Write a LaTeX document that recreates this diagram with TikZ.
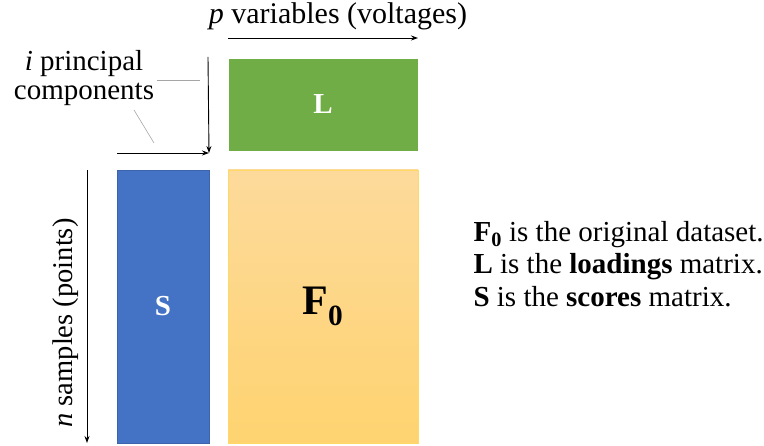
\documentclass[tikz,border=0pt]{standalone}
\usepackage{fontspec}
\setmainfont{Liberation Serif}
\usetikzlibrary{arrows.meta}

\definecolor{lgreen}{HTML}{70AD47}
\definecolor{sblue}{HTML}{4472C4}
\definecolor{sbluedark}{HTML}{3B64AD}
\definecolor{ftop}{HTML}{FDDA9B}
\definecolor{fbot}{HTML}{FED370}
\definecolor{fedge}{HTML}{FFD966}

\tikzset{
  mat/.style={minimum width=#1, inner sep=0pt, font=\fontsize{29}{32}\selectfont\bfseries},
  axis/.style={-{Stealth[length=7pt,width=5pt]}, line width=0.9pt},
  lead/.style={draw=gray!70, line width=0.6pt},
  lbl/.style={font=\fontsize{29}{29}\selectfont}
}

\begin{document}
\begin{tikzpicture}[x=1pt,y=-1pt]
\useasboundingbox (0,0) rectangle (764,446);

% matrices
\node[mat=188pt, minimum height=91pt, fill=lgreen, draw=lgreen, text=white] (L) at (323,104.5) {L};
\node[mat=92pt, minimum height=273pt, fill=sblue, draw=sbluedark, text=white] (S) at (163,306.5) {S};
\node[mat=190pt, minimum height=273pt, top color=ftop, bottom color=fbot, draw=fedge,
      font=\fontsize{42}{48}\selectfont\bfseries] (F) at (323,306.5) {F\textsubscript{0}};

% axis arrows
\coordinate (pA) at (228,38);
\coordinate (pB) at (418,38);
\coordinate (iTop) at (208,57);
\coordinate (corner) at (209,153);
\coordinate (iLeft) at (117,153);
\coordinate (nA) at (87,170);
\coordinate (nB) at (87,443);

\draw[axis] (pA) -- (pB);
\draw[axis] (iTop) -- (corner |- iLeft);
\draw[axis] (iLeft) -- (corner);
\draw[axis] (nA) -- (nB);

% labels
\node[lbl, font=\fontsize{30}{30}\selectfont] (pvar) at (338,16) {\textit{p} variables (voltages)};
\node[lbl, align=center] (icomp) at (84,78) {\textit{i} principal\\components};
\node[lbl, rotate=90, font=\fontsize{28.5}{29}\selectfont] (nsamp) at (66,323) {\textit{n} samples (points)};

% leader lines
\coordinate (hA) at (157,80);
\coordinate (hB) at (200,80);
\coordinate (dA) at (134,110);
\coordinate (dB) at (154,143);
\draw[lead] (hA) -- (hB);
\draw[lead] (dA) -- (dB);

% legend
\node[lbl, align=left, anchor=west, font=\fontsize{29}{32.5}\selectfont] (legend) at (470,264)
  {\textbf{F\textsubscript{0}} is the original dataset.\\
   \textbf{L} is the \textbf{loadings} matrix.\\
   \textbf{S} is the \textbf{scores} matrix.};

\end{tikzpicture}
\end{document}
